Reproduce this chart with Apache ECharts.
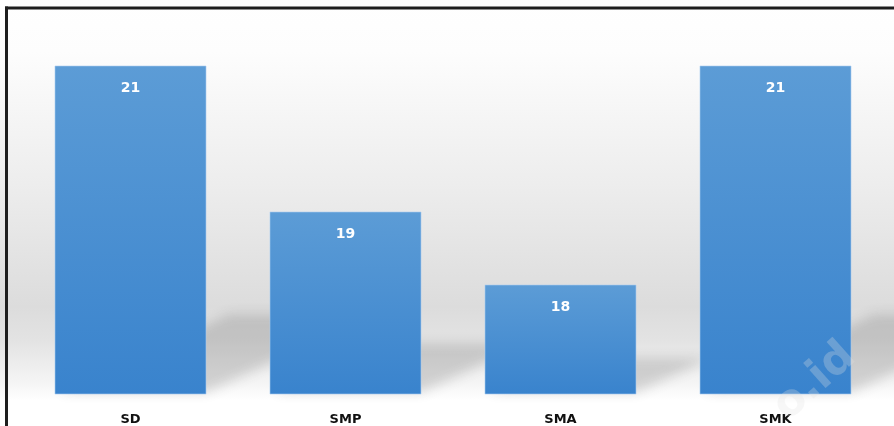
<!DOCTYPE html>
<html>
<head>
<meta charset="utf-8">
<script src="https://cdn.jsdelivr.net/npm/echarts@6/dist/echarts.min.js"></script>
<style>
  html, body { margin: 0; padding: 0; background: #fff; }
  #chart { width: 894px; height: 426px; }
</style>
</head>
<body>
<div id="chart"></div>
<script>
// School levels and their counts
const categories = ['SD', 'SMP', 'SMA', 'SMK'];
const values = [21, 19, 18, 21];

// Value axis range (the bars sit on a truncated axis)
const axisMin = 16.5;
const axisMax = 21.5;

const chart = echarts.init(document.getElementById('chart'), null, { renderer: 'canvas' });

// Soft perspective shadow behind each bar, leaning up and to the right.
// The polygon itself is drawn off-canvas; only its blurred shadow lands in view.
const SHIFT = 3000;
function renderShadow(params, api) {
  const idx = api.value(0);
  const val = api.value(1);
  const top = api.coord([idx, val]);
  const base = api.coord([idx, axisMin]);
  const w = api.size([1, 0])[0] * 0.707;
  const barH = base[1] - top[1];
  const h = barH * 0.2 + 12;
  const dx = h * 2.2;
  const x0 = base[0] - w / 2 + 4 - SHIFT;
  const x1 = base[0] + w / 2 - SHIFT;
  const yb = base[1] - 2;
  return {
    type: 'polygon',
    shape: {
      points: [[x0, yb], [x1, yb], [x1 + dx, yb - h], [x0 + dx, yb - h]]
    },
    style: {
      fill: '#000',
      shadowBlur: 12,
      shadowOffsetX: SHIFT,
      shadowColor: 'rgba(70,70,70,0.20)'
    }
  };
}

const option = {
  animation: false,
  backgroundColor: new echarts.graphic.LinearGradient(0, 0, 0, 1, [
    { offset: 0, color: '#ffffff' },
    { offset: 0.12, color: '#fdfdfd' },
    { offset: 0.45, color: '#ececec' },
    { offset: 0.72, color: '#dcdcdc' },
    { offset: 0.8, color: '#e3e3e3' },
    { offset: 0.9, color: '#f5f5f5' },
    { offset: 0.94, color: '#ffffff' },
    { offset: 1, color: '#ffffff' }
  ]),
  grid: { left: 23, right: 11, top: 29, bottom: 32, containLabel: false },
  xAxis: {
    type: 'category',
    data: categories,
    axisLine: { show: false },
    axisTick: { show: false },
    axisLabel: {
      margin: 19,
      color: '#111',
      fontFamily: 'DejaVu Sans',
      fontWeight: 'bold',
      fontSize: 13
    }
  },
  yAxis: {
    type: 'value',
    min: axisMin,
    max: axisMax,
    show: false,
    splitLine: { show: false }
  },
  series: [
    {
      type: 'custom',
      renderItem: renderShadow,
      data: values.map((v, i) => [i, v]),
      z: 1,
      silent: true,
      clip: false
    },
    {
      type: 'bar',
      data: values,
      barWidth: '70.7%',
      z: 3,
      itemStyle: {
        color: new echarts.graphic.LinearGradient(0, 0, 0, 1, [
          { offset: 0, color: '#5c9cd6' },
          { offset: 1, color: '#3983cd' }
        ]),
        borderColor: 'rgba(170,205,240,0.6)',
        borderWidth: 1
      },
      label: {
        show: true,
        position: 'insideTop',
        distance: 16,
        color: '#ffffff',
        fontFamily: 'DejaVu Sans',
        fontWeight: 'bold',
        fontSize: 14
      }
    }
  ],
  graphic: [
    // Frame: top and left edges
    { type: 'line', shape: { x1: 5, y1: 8, x2: 894, y2: 8 }, style: { stroke: '#1e1e1e', lineWidth: 3 }, z: 10 },
    { type: 'line', shape: { x1: 6.5, y1: 6.5, x2: 6.5, y2: 426 }, style: { stroke: '#1e1e1e', lineWidth: 3 }, z: 10 },
    // Site watermark
    {
      type: 'text',
      x: 815,
      y: 382,
      rotation: Math.PI / 4.3,
      z: 20,
      style: {
        text: 'o.id',
        font: 'bold 44px "DejaVu Sans"',
        fill: 'rgba(225,225,225,0.28)',
        align: 'center',
        verticalAlign: 'middle'
      }
    }
  ]
};

chart.setOption(option);
</script>
</body>
</html>
